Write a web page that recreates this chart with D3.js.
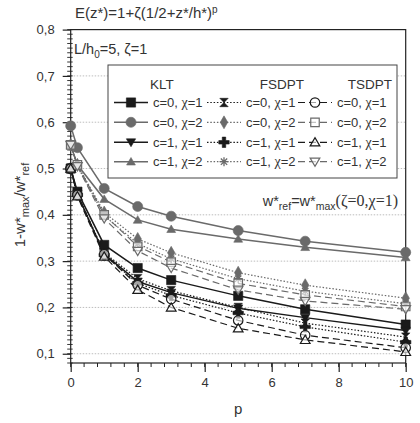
<!DOCTYPE html>
<html><head><meta charset="utf-8">
<script src="https://cdn.jsdelivr.net/npm/d3@7"></script>
<style>body{margin:0;background:#fff}svg{font-family:"Liberation Sans",Arial,sans-serif}</style>
</head><body><svg id="c" width="420" height="423"></svg>
<script>
const pValues = [0, 0.2, 1, 2, 3, 5, 7, 10];
const kltC0X1 = [0.500, 0.450, 0.335, 0.285, 0.259, 0.225, 0.196, 0.163];
const kltC0X2 = [0.592, 0.545, 0.457, 0.418, 0.397, 0.366, 0.343, 0.319];
const kltC1X1 = [0.500, 0.445, 0.315, 0.256, 0.232, 0.198, 0.178, 0.150];
const kltC1X2 = [0.551, 0.508, 0.434, 0.389, 0.369, 0.348, 0.330, 0.308];
const fsC0X1 = [0.500, 0.445, 0.318, 0.262, 0.236, 0.200, 0.166, 0.136];
const fsC0X2 = [0.551, 0.508, 0.405, 0.348, 0.318, 0.275, 0.248, 0.220];
const fsC1X1 = [0.500, 0.443, 0.313, 0.252, 0.226, 0.188, 0.158, 0.125];
const fsC1X2 = [0.551, 0.505, 0.398, 0.338, 0.305, 0.262, 0.235, 0.208];
const tsC0X1 = [0.500, 0.443, 0.315, 0.248, 0.218, 0.172, 0.140, 0.113];
const tsC0X2 = [0.551, 0.508, 0.400, 0.332, 0.298, 0.252, 0.227, 0.202];
const tsC1X1 = [0.500, 0.440, 0.310, 0.238, 0.200, 0.155, 0.130, 0.104];
const tsC1X2 = [0.551, 0.505, 0.392, 0.322, 0.285, 0.238, 0.214, 0.196];
const groupNames = ["KLT", "FSDPT", "TSDPT"];
const rowLabels = [["c=0, ","=1"],["c=0, ","=2"],["c=1, ","=1"],["c=1, ","=2"]];
const xTicks = [0, 2, 4, 6, 8, 10];
const yTicks = [0.1, 0.2, 0.3, 0.4, 0.5, 0.6, 0.7, 0.8];

const BLACK = "#1a1a1a", GRAY = "#6a6a6a";
const hourglass = {draw(ctx, size){const r=Math.sqrt(size)/2;ctx.moveTo(-r,-r);ctx.lineTo(r,-r);ctx.lineTo(-r,r);ctx.lineTo(r,r);ctx.closePath();}};
const downTri = {draw(ctx, size){const r=Math.sqrt(size)/1.6;ctx.moveTo(-r,-r*0.75);ctx.lineTo(r,-r*0.75);ctx.lineTo(0,r*0.95);ctx.closePath();}};
const upTri = {draw(ctx, size){const r=Math.sqrt(size)/1.6;ctx.moveTo(-r,r*0.75);ctx.lineTo(r,r*0.75);ctx.lineTo(0,-r*0.95);ctx.closePath();}};
const asterisk = {draw(ctx, size){const r=Math.sqrt(size)/2;for(let i=0;i<4;i++){const a=i*Math.PI/4;ctx.moveTo(-r*Math.cos(a),-r*Math.sin(a));ctx.lineTo(r*Math.cos(a),r*Math.sin(a));}}};

const series = [
 {g:0,r:0,v:kltC0X1,sym:d3.symbolSquare,size:85,col:BLACK,fill:true,dash:null},
 {g:0,r:1,v:kltC0X2,sym:d3.symbolCircle,size:80,col:GRAY,fill:true,dash:null},
 {g:0,r:2,v:kltC1X1,sym:downTri,size:55,col:BLACK,fill:true,dash:null},
 {g:0,r:3,v:kltC1X2,sym:upTri,size:50,col:GRAY,fill:true,dash:null},
 {g:1,r:0,v:fsC0X1,sym:hourglass,size:70,col:BLACK,fill:true,dash:"1.5,1.8"},
 {g:1,r:1,v:fsC0X2,sym:d3.symbolDiamond,size:48,col:GRAY,fill:true,dash:"1.5,1.8"},
 {g:1,r:2,v:fsC1X1,sym:d3.symbolCross,size:60,col:BLACK,fill:true,dash:"1.5,1.8"},
 {g:1,r:3,v:fsC1X2,sym:asterisk,size:80,col:GRAY,fill:false,stroke:true,dash:"1.5,1.8"},
 {g:2,r:0,v:tsC0X1,sym:d3.symbolCircle,size:70,col:BLACK,fill:false,dash:"7,4"},
 {g:2,r:1,v:tsC0X2,sym:d3.symbolSquare,size:72,col:GRAY,fill:false,dash:"7,4"},
 {g:2,r:2,v:tsC1X1,sym:upTri,size:60,col:BLACK,fill:false,dash:"7,4"},
 {g:2,r:3,v:tsC1X2,sym:downTri,size:60,col:GRAY,fill:false,dash:"7,4"}
];

const svg = d3.select("#c");
const L=70.7, R=405.7, T=29.6, B=363;
const x = d3.scaleLinear().domain([0,10]).range([L,R]);
const y = d3.scaleLinear().domain([0.08,0.8]).range([B,T]);

svg.append("g").selectAll("line").data(yTicks.filter(d=>d<0.8)).join("line")
 .attr("x1",L).attr("x2",R).attr("y1",d=>y(d)).attr("y2",d=>y(d))
 .attr("stroke","#bdbdbd").attr("stroke-width",1).attr("stroke-dasharray","1.5,1.5");

svg.append("rect").attr("x",L).attr("y",T).attr("width",R-L).attr("height",B-T)
 .attr("fill","none").attr("stroke","#222").attr("stroke-width",1.2);

const xMinor = d3.range(0,10.001,0.4);
svg.append("g").selectAll("line").data(xMinor).join("line")
 .attr("x1",d=>x(d)).attr("x2",d=>x(d)).attr("y1",B).attr("y2",B+4).attr("stroke","#222");
const xa = svg.append("g").attr("transform",`translate(0,${B})`)
 .call(d3.axisBottom(x).tickValues(xTicks).tickSize(9).tickPadding(6).tickFormat(d3.format("d")));
xa.select(".domain").remove();
xa.selectAll("line").attr("stroke","#222").attr("stroke-width",1.2);
xa.selectAll("text").attr("font-size",13).attr("fill","#333").attr("font-family","Liberation Sans, Arial");

const yMinor = d3.range(0.08,0.8001,0.01);
svg.append("g").selectAll("line").data(yMinor).join("line")
 .attr("x1",L-3.5).attr("x2",L+2).attr("y1",d=>y(d)).attr("y2",d=>y(d)).attr("stroke","#222").attr("stroke-width",0.9);
const ya = svg.append("g").attr("transform",`translate(${L},0)`)
 .call(d3.axisLeft(y).tickValues(yTicks).tickSize(8).tickPadding(8).tickFormat(d=>d3.format(".1f")(d).replace(".",",")));
ya.select(".domain").remove();
ya.selectAll("line").attr("stroke","#222").attr("stroke-width",1.2);
ya.selectAll("text").attr("font-size",13).attr("fill","#333").attr("font-family","Liberation Sans, Arial");

svg.append("text").attr("x",x(5)).attr("y",414).attr("text-anchor","middle").attr("font-size",15).attr("fill","#333").text("p");
const yl = svg.append("text").attr("transform","translate(25,205) rotate(-90)").attr("text-anchor","middle").attr("font-size",15).attr("fill","#333");
yl.append("tspan").text("1-w*");
yl.append("tspan").attr("font-size",11).attr("dy",4).text("max");
yl.append("tspan").attr("dy",-4).text("/w*");
yl.append("tspan").attr("font-size",11).attr("dy",4).text("ref");

const tt = svg.append("text").attr("x",75).attr("y",18).attr("font-size",15).attr("fill","#333");
tt.append("tspan").text("E(z*)=1+ζ(1/2+z*/h*)");
tt.append("tspan").attr("font-size",10).attr("dy",-5).text("p");
const lh = svg.append("text").attr("x",74).attr("y",54).attr("font-size",14.5).attr("fill","#333");
lh.append("tspan").text("L/h");
lh.append("tspan").attr("font-size",10).attr("dy",4).text("0");
lh.append("tspan").attr("dy",-4).text("=5, ζ=1");

const rt = svg.append("text").attr("x",398).attr("y",206).attr("text-anchor","end").attr("font-size",14.5).attr("fill","#333");
rt.append("tspan").text("w*");
rt.append("tspan").attr("font-size",10.5).attr("dy",4).text("ref");
rt.append("tspan").attr("dy",-4).text("=w*");
rt.append("tspan").attr("font-size",10.5).attr("dy",4).text("max");
rt.append("tspan").attr("dy",-4).attr("font-family","Liberation Serif, Times New Roman, serif").attr("font-size",16).text("(ζ=0,χ=1)");

const line = d3.line().x((d,i)=>x(pValues[i])).y(d=>y(d));
const gData = svg.append("g");
series.slice().reverse().forEach(s=>{
  gData.append("path").attr("d",line(s.v)).attr("fill","none").attr("stroke",s.col)
   .attr("stroke-width",s.g===0?1.5:1.2).attr("stroke-dasharray",s.dash);
});
function drawMarker(g, s, cx, cy){
  const p = g.append("path").attr("d",d3.symbol().type(s.sym).size(s.size)()).attr("transform",`translate(${cx},${cy})`);
  if(s.stroke){p.attr("fill","none").attr("stroke",s.col).attr("stroke-width",1.3);}
  else if(s.fill){p.attr("fill",s.col).attr("stroke",s.col).attr("stroke-width",0.6);}
  else {p.attr("fill","#fff").attr("fill-opacity",0.6).attr("stroke",s.col).attr("stroke-width",1.2);}
}
series.forEach(s=>{
  s.v.forEach((v,i)=>drawMarker(gData,s,x(pValues[i]),y(v)));
});

const lg = svg.append("g");
lg.append("rect").attr("x",108).attr("y",65).attr("width",289).attr("height",113).attr("fill","#fff").attr("stroke","#444").attr("stroke-width",1);
const colX = [114, 207, 298];
const headX = [162, 282, 370];
groupNames.forEach((n,i)=>lg.append("text").attr("x",headX[i]).attr("y",89).attr("text-anchor","middle").attr("font-size",13.5).attr("fill","#333").text(n));
const rowY = [102.5, 122.3, 142.3, 161.7];
series.forEach(s=>{
  const x0 = colX[s.g], yy = rowY[s.r];
  lg.append("line").attr("x1",x0).attr("x2",x0+34).attr("y1",yy).attr("y2",yy).attr("stroke",s.col)
   .attr("stroke-width",s.g===0?1.5:1.2).attr("stroke-dasharray",s.dash);
  drawMarker(lg,s,x0+17,yy);
  const t = lg.append("text").attr("x",x0+39).attr("y",yy+4.5).attr("font-size",13).attr("fill","#333");
  t.append("tspan").text(rowLabels[s.r][0]);
  t.append("tspan").attr("font-family","Liberation Serif, Times New Roman, serif").attr("font-size",14).text("χ");
  t.append("tspan").text(rowLabels[s.r][1]);
});
</script></body></html>
